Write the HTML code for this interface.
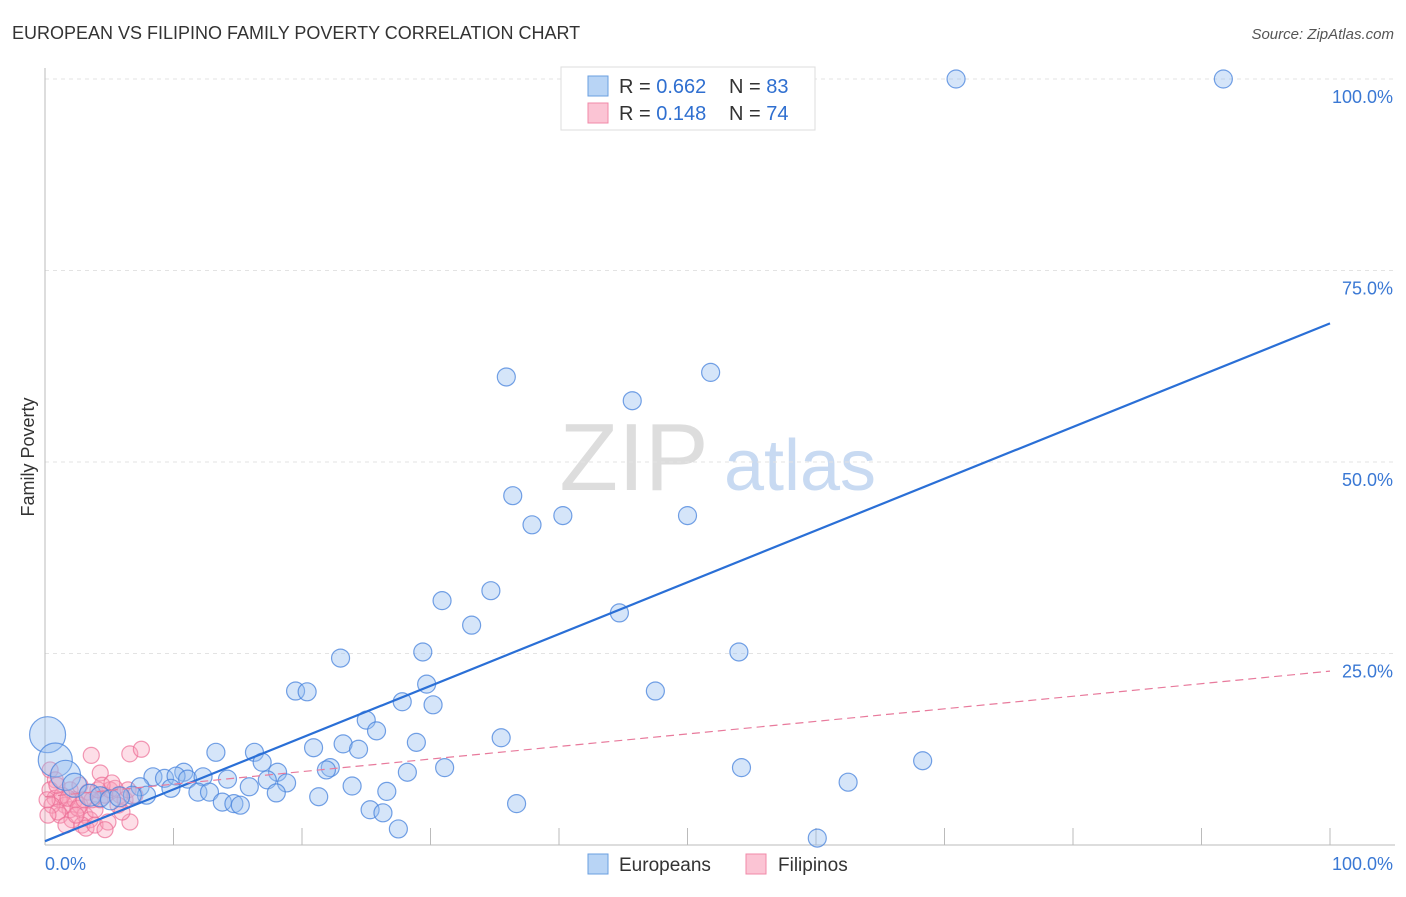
<!DOCTYPE html>
<html><head><meta charset="utf-8">
<style>
body{margin:0;background:#fff;font-family:"Liberation Sans",sans-serif;}
svg text{font-family:"Liberation Sans",sans-serif;}
</style></head>
<body>
<svg width="1406" height="892" id="chart" xmlns="http://www.w3.org/2000/svg">
<text x="12" y="39" font-size="18" fill="#333">EUROPEAN VS FILIPINO FAMILY POVERTY CORRELATION CHART</text>
<text x="1394" y="39" font-size="15" fill="#555" font-style="italic" text-anchor="end">Source: ZipAtlas.com</text>
<text x="634" y="490" font-size="96" fill="#ddd" font-family="Liberation Serif" text-anchor="middle">ZIP</text>
<text x="800" y="490" font-size="72" fill="#c8daf2" text-anchor="middle">atlas</text>
<text transform="translate(34,457) rotate(-90)" font-size="18" fill="#333" text-anchor="middle">Family Poverty</text>
<g id="grid"></g>
<g id="pts"></g>
<g id="trends"></g>
<g>
<rect x="561" y="67" width="254" height="63" fill="#fff" stroke="#ddd"/>
<rect x="588" y="76" width="20" height="20" fill="#b8d4f5" stroke="#6a9fe0"/>
<rect x="588" y="103" width="20" height="20" fill="#fbc4d4" stroke="#f08aa8"/>
<text x="619" y="93" font-size="20" fill="#333">R = <tspan fill="#2f6fd0">0.662</tspan></text>
<text x="729" y="93" font-size="20" fill="#333">N = <tspan fill="#2f6fd0">83</tspan></text>
<text x="619" y="120" font-size="20" fill="#333">R =  <tspan fill="#2f6fd0">0.148</tspan></text>
<text x="729" y="120" font-size="20" fill="#333">N = <tspan fill="#2f6fd0">74</tspan></text>
</g>
<g>
<rect x="588" y="854" width="20" height="20" fill="#b8d4f5" stroke="#6a9fe0"/>
<text x="619" y="871" font-size="19" fill="#333">Europeans</text>
<rect x="746" y="854" width="20" height="20" fill="#fbc4d4" stroke="#f08aa8"/>
<text x="778" y="871" font-size="19" fill="#333">Filipinos</text>
</g>
</svg>
<script>
const yTicks=[25,50,75,100];
const yTickLabels=["25.0%","50.0%","75.0%","100.0%"];
const xTicks=[0,10,20,30,40,50,60,70,80,90,100];
const eurX=[70.9,91.7,35.9,51.8,45.7,36.4,37.9,40.3,50.0,30.9,34.7,33.2,44.7,23.0,29.4,54.0,47.5,19.5,20.4,29.7,27.8,30.2,25.0,25.8,35.5,28.9,23.2,24.4,20.9,13.3,16.3,16.9,68.3,54.2,31.1,22.2,21.9,28.2,18.1,10.8,8.4,9.3,10.2,11.1,12.3,14.2,17.3,18.8,62.5,7.4,9.8,11.9,12.8,15.9,23.9,26.6,18.0,21.3,7.9,6.8,13.8,14.7,15.2,36.7,25.3,26.3,27.5,60.1,0.2,0.8,1.6,2.3,3.5,4.3,5.1,5.8];
const eurY=[100,100,61.1,61.7,58.0,45.6,41.8,43.0,43.0,31.9,33.2,28.7,30.3,24.4,25.2,25.2,20.1,20.1,20.0,21.0,18.7,18.3,16.3,14.9,14.0,13.4,13.2,12.5,12.7,12.1,12.1,10.8,11.0,10.1,10.1,10.1,9.8,9.5,9.5,9.5,8.9,8.7,9.0,8.6,8.9,8.6,8.5,8.1,8.2,7.6,7.4,6.9,6.9,7.6,7.7,7.0,6.8,6.3,6.5,6.5,5.6,5.4,5.2,5.4,4.6,4.2,2.1,0.9,14.4,11.1,9.1,7.8,6.5,6.3,5.9,6.3];
const eurR=[9,9,9,9,9,9,9,9,9,9,9,9,9,9,9,9,9,9,9,9,9,9,9,9,9,9,9,9,9,9,9,9,9,9,9,9,9,9,9,9,9,9,9,9,9,9,9,9,9,9,9,9,9,9,9,9,9,9,9,9,9,9,9,9,9,9,9,9,18,17,15,12,11,10,10,10];
const filX=[3.6,6.6,7.5,4.3,0.4,0.8,0.39,0.78,1.17,1.56,1.95,2.33,2.72,3.11,3.5,3.89,4.28,4.67,5.06,5.45,5.84,6.23,1.95,2.72,3.35,1.17,2.1,2.88,3.19,3.89,4.9,4.67,6.61,1.32,0.54,1.0,1.79,2.57,3.66,4.12,4.44,5.21,5.68,1.63,2.41,3.04,5.99,6.46,7.0,0.93,0.16,0.23];
const filY=[11.7,11.9,12.5,9.4,9.8,8.5,7.2,6.1,5.9,5.2,4.6,5.9,5.2,3.9,3.3,4.6,5.9,6.5,7.2,7.4,6.5,5.9,7.2,7.8,6.9,3.9,3.3,2.6,2.2,2.6,3.0,2.0,3.0,6.5,5.2,4.3,6.1,4.8,5.9,7.2,7.8,8.1,5.2,2.6,3.9,5.9,4.3,7.2,6.5,7.8,5.9,3.9];
const eurTrend=[0.5,68.1];
const filTrend=[6.3,22.7];
const X=v=>45+v*12.85, Y=v=>845-v*7.66;
const NS="http://www.w3.org/2000/svg";
function mk(tag,attrs,parent){const e=document.createElementNS(NS,tag);for(const k in attrs)e.setAttribute(k,attrs[k]);document.getElementById(parent).appendChild(e);return e;}
yTicks.forEach((t,i)=>{
 const l=mk('line',{x1:45,x2:1395,y1:Y(t),y2:Y(t),stroke:'#e3e3e3','stroke-dasharray':'4,4'},'grid');
 
 
 const tx=mk('text',{x:1393,y:Y(t)+24,'font-size':18,fill:'#3a78d4','text-anchor':'end'},'grid');
 tx.textContent=yTickLabels[i];
 
 
});
const ax=mk('line',{x1:45,x2:45,y1:68,y2:845,stroke:'#bbb'},'grid');


const bx=mk('line',{x1:45,x2:1395,y1:845,y2:845,stroke:'#bbb'},'grid');


xTicks.forEach(t=>{
 const l=mk('line',{x1:X(t),x2:X(t),y1:828,y2:845,stroke:'#bbb'},'grid');
 
 
});
const xl0=mk('text',{x:45,y:870,'font-size':18,fill:'#3a78d4'},'grid');xl0.textContent='0.0%';


const xl1=mk('text',{x:1393,y:870,'font-size':18,fill:'#3a78d4','text-anchor':'end'},'grid');xl1.textContent='100.0%';


filX.forEach((v,i)=>{
 const c=mk('circle',{cx:X(v),cy:Y(filY[i]),r:8,fill:'rgba(248,160,186,0.35)',stroke:'rgba(236,110,150,0.7)','stroke-width':1.2},'pts');
 
 
});
eurX.forEach((v,i)=>{
 const c=mk('circle',{cx:X(v),cy:Y(eurY[i]),r:eurR[i],fill:'rgba(150,190,240,0.4)',stroke:'rgba(70,130,220,0.75)','stroke-width':1.2},'pts');
 
 
});
const t1=mk('line',{x1:X(0),y1:Y(eurTrend[0]),x2:X(100),y2:Y(eurTrend[1]),stroke:'#2a6fd6','stroke-width':2.2},'trends');


const t2=mk('line',{x1:X(0),y1:Y(filTrend[0]),x2:X(100),y2:Y(filTrend[1]),stroke:'#e87a9c','stroke-width':1.2,'stroke-dasharray':'8,5'},'trends');


</script>
</body></html>
